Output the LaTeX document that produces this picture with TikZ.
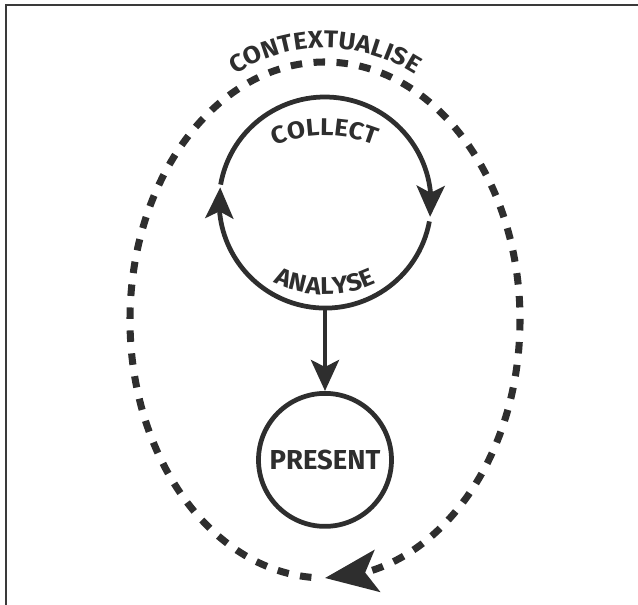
\documentclass[tikz,border=0pt]{standalone}
\usepackage{fontspec}
\setmainfont{Fira Sans}
\newfontfamily\lblfont[FakeStretch=1.08]{Fira Sans}
\usepackage{xcolor}
\definecolor{ink}{HTML}{2E2E2E}
\definecolor{edge}{HTML}{3A3A3A}
\usetikzlibrary{positioning}
\usetikzlibrary{arrows.meta}
\usetikzlibrary{bending}
\usetikzlibrary{decorations.text}
\tikzset{ring/.style = {draw=ink, line width=2.7pt, circle, inner sep=0pt, align=center, text=ink}}
\tikzset{arr/.style = {draw=ink, line width=2.7pt, -{Stealth[length=0.62cm, width=0.56cm, inset=0.14cm]}}}
\tikzset{ctxarr/.style = {draw=ink, line width=4pt, dash pattern=on 0.23cm off 0.23cm, -{Stealth[length=1.05cm, width=0.84cm, inset=0.24cm]}}}
\tikzset{curved/.style = {decorate, decoration={text along path, text align=center, text color=ink, text={|\lblfont\bfseries\fontsize{13.8}{15}\selectfont|#1}}}}
\tikzset{frame/.style = {draw=edge, line width=1.1pt}}

\begin{document}
\begin{tikzpicture}[
  node distance = 1.64cm
]
\useasboundingbox (0,0) rectangle (12.76,-12.1);
\draw[frame] (0.12,-12.1) |- (12.76,-0.1);

\node[circle, minimum size=4.24cm, inner sep=0pt, outer sep=0pt] (cyc) at (6.5,-4.06) {};
\node[ring, minimum size=2.66cm, below=of cyc, font=\bfseries\fontsize{15.6}{16}\selectfont] (present) {PRESENT};
% centre of the dashed loop
\coordinate[below=2.34cm of cyc.center] (ctx);

\draw[arr] (cyc.170) arc[start angle=170, end angle=-7.5, radius=2.12cm];
\draw[arr] (cyc.-10.5) arc[start angle=-10.5, end angle=-188, radius=2.12cm];
\draw[arr] (cyc.south) -- (present.north);
\draw[ctxarr] (ctx) ++(-94:3.9 and 5.16) arc[start angle=-94, end angle=-450, x radius=3.9, y radius=5.16];

\path[curved=COLLECT] (cyc.center) ++(0,-1.3) ++(125:2.65) arc[start angle=125, end angle=55, radius=2.65];
\path[curved=ANALYSE] (cyc.center) ++(0,0.52) ++(-130:2.35) arc[start angle=-130, end angle=-50, radius=2.35];
\path[curved=CONTEXTUALISE] (cyc.center) ++(0,-0.2) ++(140:3.3) arc[start angle=140, end angle=40, radius=3.3];

\end{tikzpicture}
\end{document}
